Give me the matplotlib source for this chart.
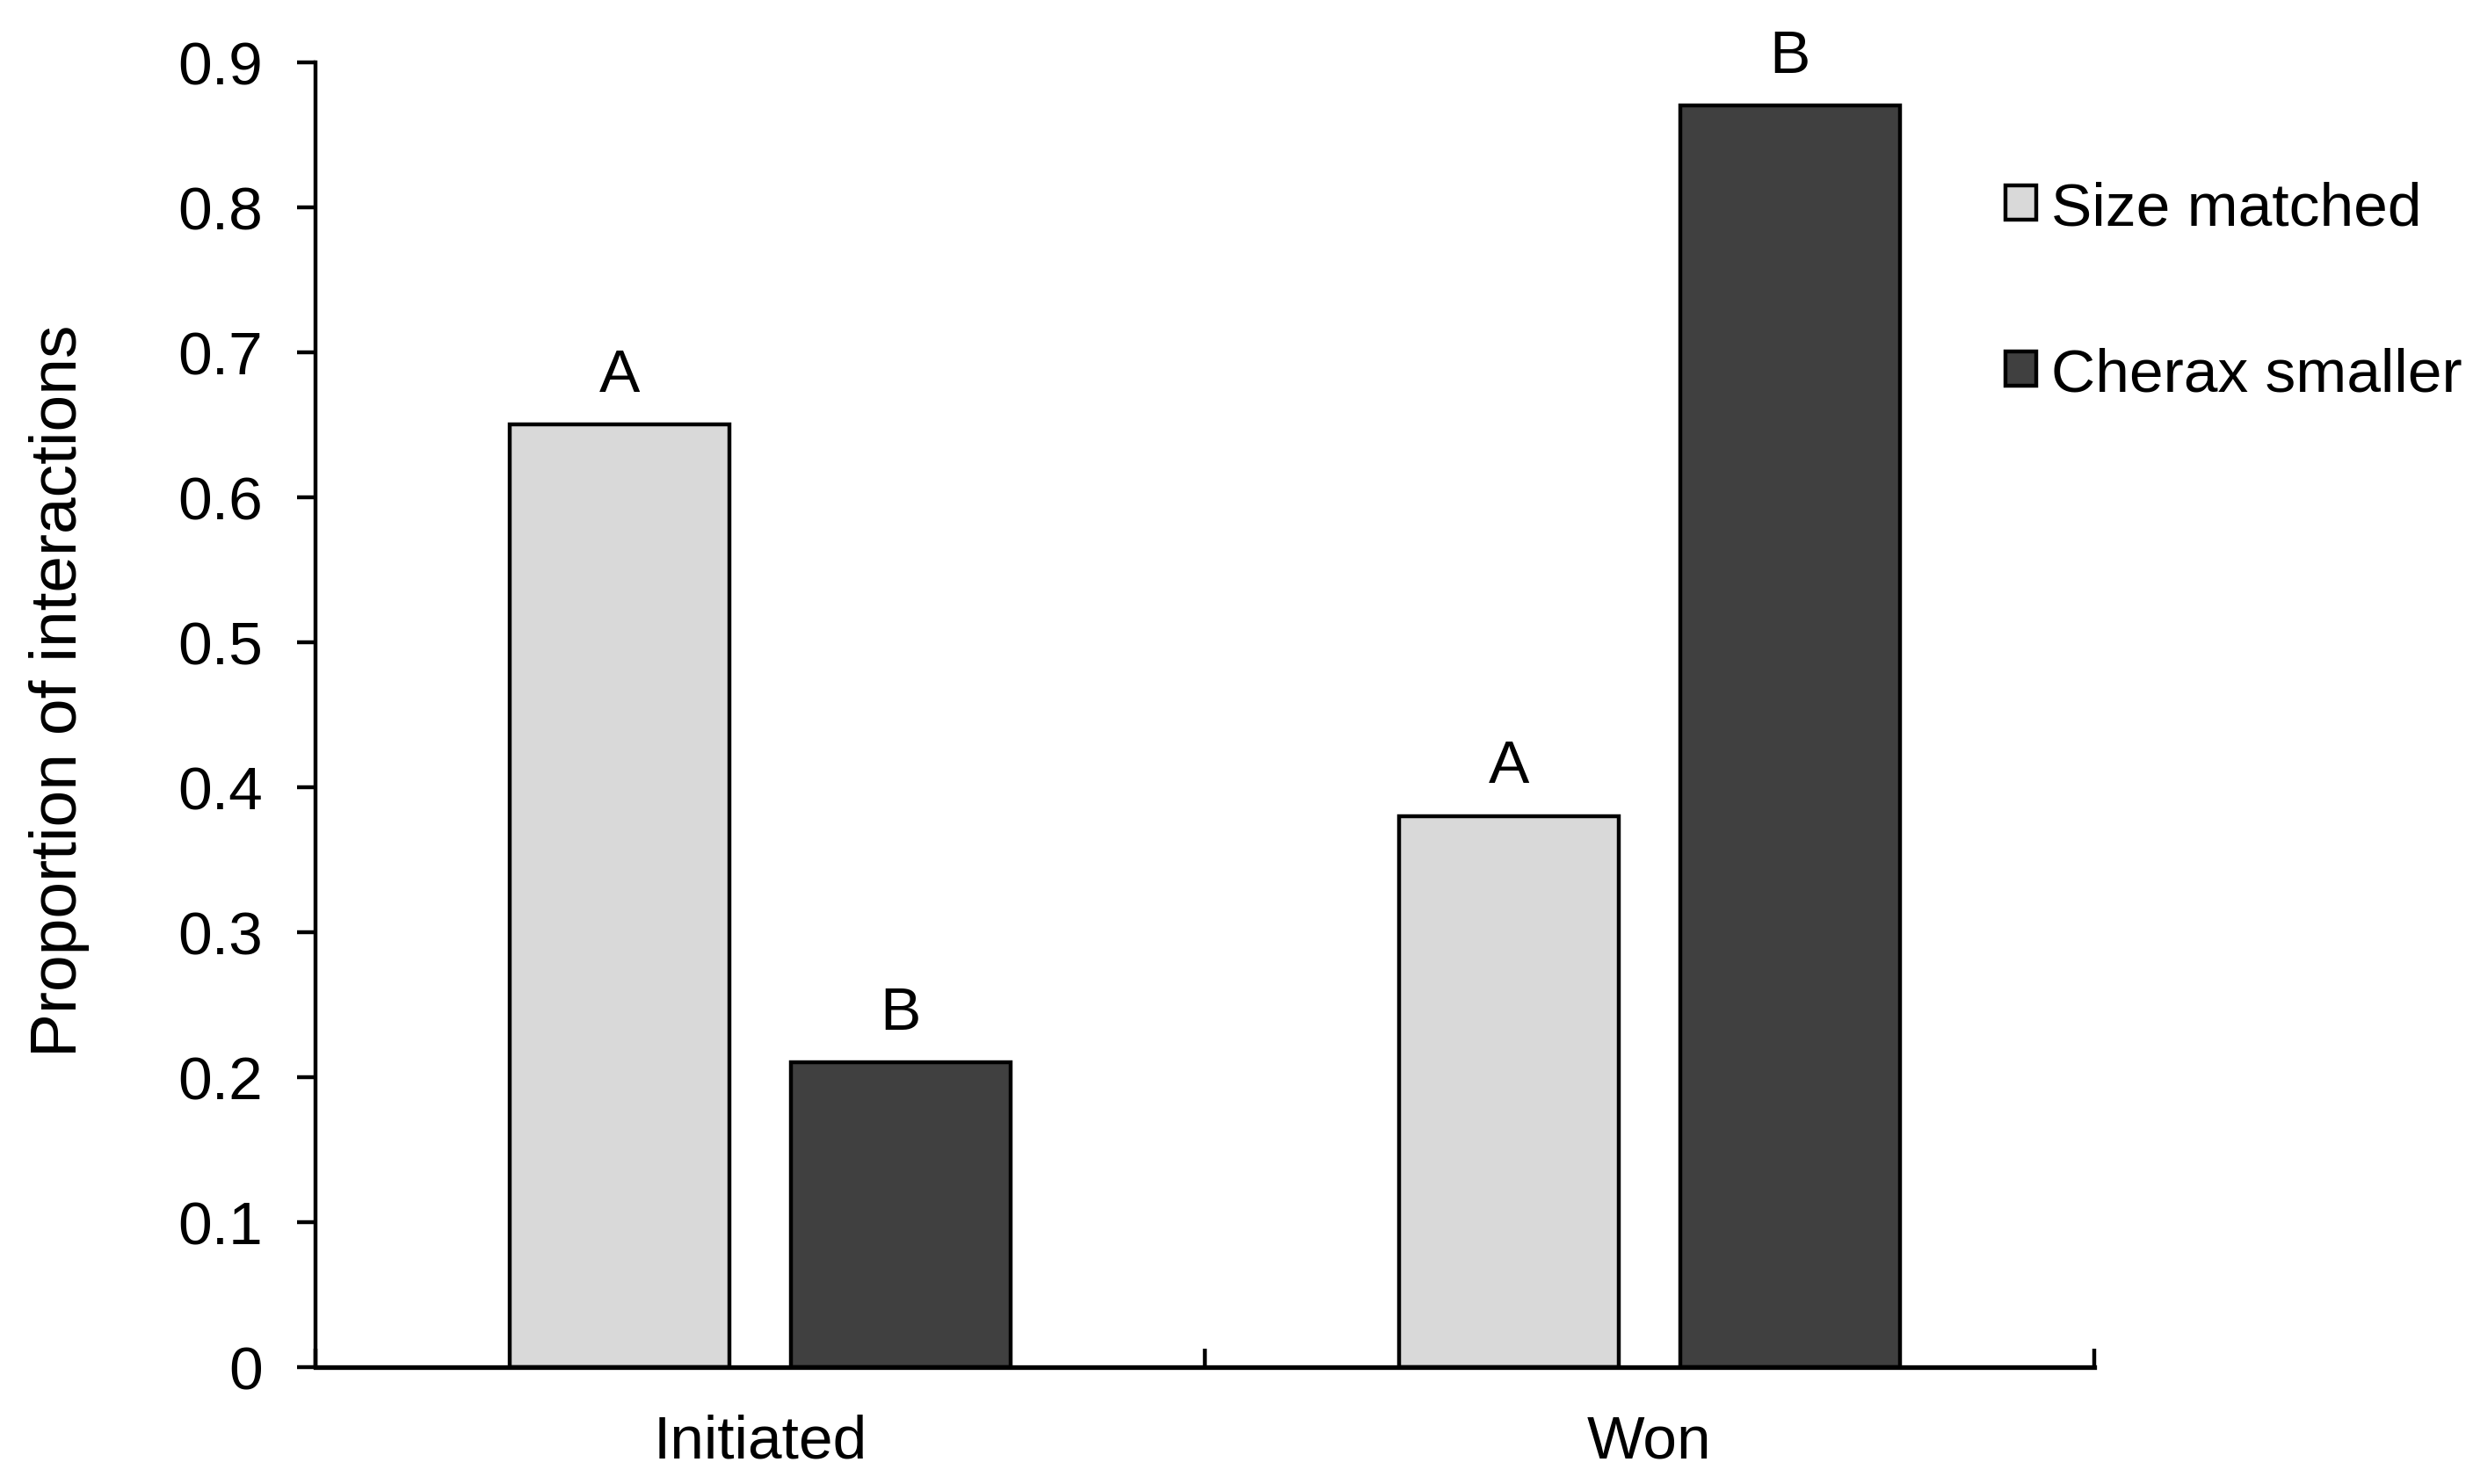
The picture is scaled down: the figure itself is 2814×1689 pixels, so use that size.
import numpy as np
import matplotlib
matplotlib.use("Agg")
import matplotlib.pyplot as plt
from matplotlib.patches import Patch

# data
categories = ["Initiated", "Won"]
size_matched = [0.65, 0.38]
cherax_smaller = [0.21, 0.87]
letters_matched = ["A", "A"]
letters_smaller = ["B", "B"]
series_names = ["Size matched", "Cherax smaller"]

plt.rcParams["font.family"] = ["Liberation Sans", "DejaVu Sans"]
fs = 25

fig = plt.figure(figsize=(14.07, 8.45), dpi=200)
ax = fig.add_axes([0.1276, 0.0787, 0.8468 - 0.1276, 0.9574 - 0.0787])

x = np.arange(len(categories))
w = 0.247
off = 0.158
light = "#d9d9d9"
dark = "#404040"
lw = 1.6

ax.bar(x - off, size_matched, w, color=light, edgecolor="black", linewidth=lw)
ax.bar(x + off, cherax_smaller, w, color=dark, edgecolor="black", linewidth=lw)

# significance letters above the bars
for xi, v, t in zip(x - off, size_matched, letters_matched):
    ax.text(xi, v + 0.015, t, ha="center", va="bottom", fontsize=fs)
for xi, v, t in zip(x + off, cherax_smaller, letters_smaller):
    ax.text(xi, v + 0.015, t, ha="center", va="bottom", fontsize=fs)

ax.set_xlim(-0.5, 1.5)
ax.set_ylim(0, 0.9)
ax.set_yticks(np.arange(0, 0.91, 0.1))
ax.set_yticklabels(["0"] + ["%.1f" % v for v in np.arange(0.1, 0.91, 0.1)])

ax.set_xticks(x)
ax.set_xticklabels(categories)
ax.set_xticks([-0.5, 0.5, 1.5], minor=True)
ax.tick_params(axis="x", which="major", length=0, pad=19, labelsize=fs)
ax.tick_params(axis="x", which="minor", direction="in", length=7.5, width=lw)
ax.tick_params(axis="y", direction="out", length=7.5, width=lw, pad=14, labelsize=fs)

for s in ["top", "right"]:
    ax.spines[s].set_visible(False)
ax.spines["left"].set_linewidth(lw)
ax.spines["bottom"].set_linewidth(1.9)

ax.set_ylabel("Proportion of interactions", fontsize=27)
ax.yaxis.set_label_coords(-0.127, 0.519)

handles = [Patch(facecolor=light, edgecolor="black", linewidth=lw),
           Patch(facecolor=dark, edgecolor="black", linewidth=lw)]
fig.legend(handles, series_names, loc="upper left", bbox_to_anchor=(0.811, 0.878),
           frameon=False, fontsize=fs, handlelength=0.5, handleheight=0.5,
           handletextpad=0.25, labelspacing=1.8, borderpad=0, borderaxespad=0)

fig.savefig("out.png", dpi=200)
